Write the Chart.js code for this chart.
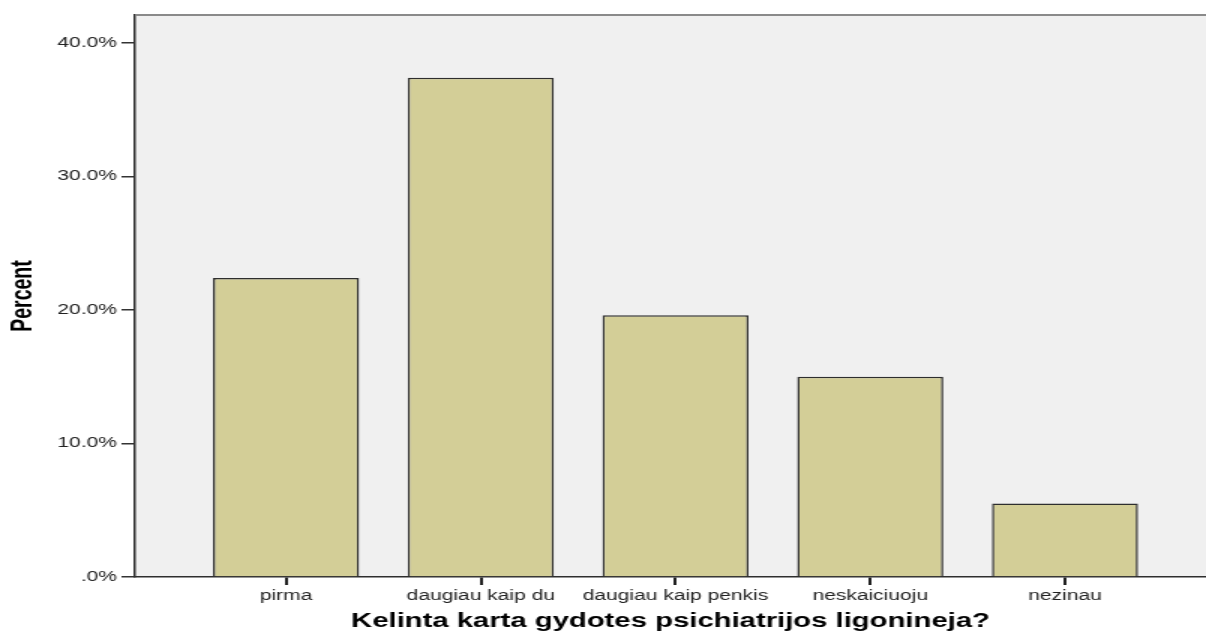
<!DOCTYPE html>
<html>
<head>
<meta charset="utf-8">
<script src="https://cdn.jsdelivr.net/npm/chart.js@4/dist/chart.umd.min.js"></script>
<style>
  html, body { margin: 0; padding: 0; background: #ffffff; overflow: hidden; }
  #wrap { width: 1206px; height: 637px; position: relative; }
  #c { position: absolute; left: 0; top: 0; transform: scaleX(1.5); transform-origin: 0 0; }
</style>
</head>
<body>
<div id="wrap"><canvas id="c" width="804" height="637"></canvas></div>
<script>
// ---- data ----
const categories = ['pirma', 'daugiau kaip du', 'daugiau kaip penkis', 'neskaiciuoju', 'nezinau'];
const percents = [22.4, 37.4, 19.6, 15.0, 5.5];
const yTickValues = [0, 10, 20, 30, 40];
const xTitle = 'Kelinta karta gydotes psichiatrijos ligonineja?';
const yTitle = 'Percent';

Chart.defaults.font.family = "'Liberation Sans', Arial, 'DejaVu Sans', sans-serif";

const frame = {
  id: 'frame',
  beforeDraw(chart) {
    const {ctx, chartArea: a} = chart;
    ctx.save();
    ctx.fillStyle = '#f0f0f0';
    ctx.fillRect(a.left, a.top, a.right - a.left, a.bottom - a.top);
    ctx.restore();
  },
  afterDraw(chart) {
    const {ctx, chartArea: a} = chart;
    ctx.save();
    ctx.strokeStyle = '#8a8a8a';
    ctx.lineWidth = 2;
    ctx.beginPath();
    ctx.moveTo(a.left, a.top);
    ctx.lineTo(a.right, a.top);
    ctx.stroke();
    ctx.restore();
  }
};

new Chart(document.getElementById('c'), {
  type: 'bar',
  data: {
    datasets: [{
      data: percents.map((v, i) => ({x: i, y: v})),
      backgroundColor: '#d3ce97',
      borderColor: '#2e2e2e',
      borderWidth: 1.5,
      borderSkipped: 'bottom',
      categoryPercentage: 1,
      barPercentage: 0.75
    }]
  },
  options: {
    responsive: false,
    devicePixelRatio: 1,
    animation: false,
    layout: { padding: { top: 15, left: 0, right: 0, bottom: 0 } },
    plugins: { legend: { display: false }, tooltip: { enabled: false } },
    scales: {
      x: {
        type: 'linear',
        offset: false,
        bounds: 'data',
        min: -0.7756,
        max: 4.724,
        afterBuildTicks(s) { s.ticks = categories.map((c, i) => ({value: i})); },
        afterFit(s) { s.height = 60; },
        ticks: {
          autoSkip: false, maxRotation: 0, minRotation: 0,
          padding: 3,
          color: '#222',
          font: { size: 14 },
          callback: (v) => categories[v]
        },
        grid: { offset: false, drawOnChartArea: false, drawTicks: true, tickLength: 8, color: '#222', tickColor: '#222', tickWidth: 2, lineWidth: 2 },
        border: { display: true, color: '#2e2e2e', width: 1.5 },
        title: {
          display: true, text: xTitle, color: '#000',
          font: { size: 19.5, weight: 'bold' },
          padding: { top: 0, bottom: 4 }
        }
      },
      y: {
        min: 0,
        max: 42.1,
        afterBuildTicks(s) { s.ticks = yTickValues.map(v => ({value: v})); },
        afterFit(s) { s.width = 90; },
        ticks: {
          padding: 3,
          color: '#222',
          font: { size: 14 },
          callback: (v) => v === 0 ? '.0%' : v.toFixed(1) + '%'
        },
        grid: { drawOnChartArea: false, drawTicks: true, tickLength: 9, color: '#333', lineWidth: 1.5 },
        border: { display: true, color: '#2e2e2e', width: 1.5 },
        title: {
          display: true, text: yTitle, color: '#000',
          font: { size: 19.5, weight: 'bold' },
          padding: { top: 4, bottom: 0 }
        }
      }
    }
  },
  plugins: [frame]
});
</script>
</body>
</html>
